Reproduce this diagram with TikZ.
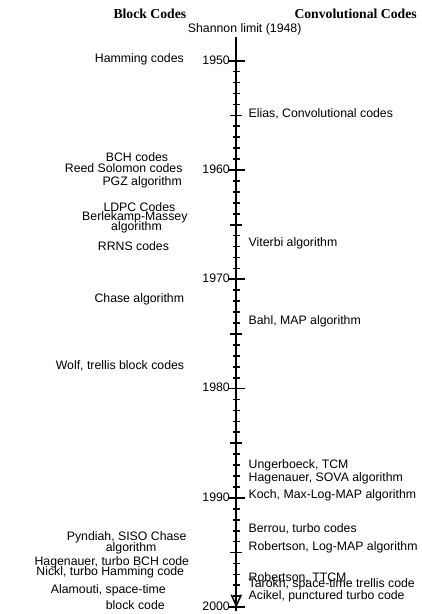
\documentclass[tikz,border=0pt]{standalone}
\usepackage{fontspec}
\setmainfont{Liberation Sans}
\newfontfamily\headfont{Liberation Serif}
\usetikzlibrary{arrows.meta}
\begin{document}
\begin{tikzpicture}[x=1pt,y=-1pt,
  lbl/.style={font=\fontsize{12.3}{13}\selectfont, inner sep=0pt},
  lw/.style={lbl, anchor=base west},
  le/.style={lbl, anchor=base east},
  head/.style={font=\headfont\bfseries\fontsize{13.7}{14}\selectfont, inner sep=0pt, anchor=base west},
  axisline/.style={line width=2.2pt},
  tickline/.style={line width=1.7pt}]
\useasboundingbox (0,0) rectangle (421,614);
% headings
\node[head] (hblock) at (113.3,18.3) {Block Codes};
\node[head] (hconv) at (294.3,18.3) {Convolutional Codes};
\node[lw] (shannon) at (187.7,32.5) {Shannon limit (1948)};
% axis
\coordinate (top) at (236.3,37);
\coordinate (bot) at (236.3,611);
\coordinate (tip) at (236.3,607.5);
\coordinate (pre) at (236.3,590);
\draw[axisline] (top) -- (bot);
\draw[line width=1.5pt,-{Straight Barb[length=11pt,width=10pt,line width=1.5pt]}] (pre) -- (tip);
% ticks
\foreach \yr in {1950,...,2000}{
  \pgfmathsetmacro\yy{60.7+(\yr-1950)*10.93}
  \pgfmathtruncatemacro\mten{mod(\yr,10)}
  \pgfmathtruncatemacro\mfive{mod(\yr,5)}
  \pgfmathsetmacro\len{ifthenelse(\mten==0,8.5,ifthenelse(\mfive==0,6,3.5))}
  \coordinate (t\yr) at (236.3,\yy);
  \draw[tickline] (t\yr) ++(-\len,0) -- ++(2*\len,0);
}
% year labels
\foreach \yr/\yb in {1950/64.0,1960/173.3,1970/282.6,1980/391.9,1990/501.2,2000/610.5}{
  \node[le] (y\yr) at (230,\yb) {\yr};
}
% block codes (left)
\node[le] (hamming) at (184,62.5) {Hamming codes};
\node[lw] (bch) at (105.7,161.7) {BCH codes};
\node[le] (rs) at (182.7,172.7) {Reed Solomon codes};
\node[le] (pgz) at (182,185) {PGZ algorithm};
\node[lw] (ldpc) at (103.3,211) {LDPC Codes};
\node[le] (bm) at (187.7,220) {Berlekamp-Massey};
\node[lw] (bm2) at (111,230.7) {algorithm};
\node[lw] (rrns) at (97.7,250) {RRNS codes};
\node[le] (chase) at (184.3,302.3) {Chase algorithm};
\node[le] (wolf) at (184.3,369.3) {Wolf, trellis block codes};
\node[le] (pyn) at (186.7,540.7) {Pyndiah, SISO Chase};
\node[lw] (pyn2) at (105.7,551) {algorithm};
\node[le] (hagbch) at (189.3,565) {Hagenauer, turbo BCH code};
\node[le] (nickl) at (184.3,575.3) {Nickl, turbo Hamming code};
\node[le] (alam) at (166,593.3) {Alamouti, space-time};
\node[lw] (alam2) at (105.7,609.3) {block code};
% convolutional codes (right)
\node[lw] (elias) at (248.5,117.5) {Elias, Convolutional codes};
\node[lw] (viterbi) at (248.5,246.7) {Viterbi algorithm};
\node[lw] (bahl) at (248.5,324) {Bahl, MAP algorithm};
\node[lw] (unger) at (248.5,468.3) {Ungerboeck, TCM};
\node[lw] (sova) at (248.5,481) {Hagenauer, SOVA algorithm};
\node[lw] (koch) at (248.5,498.3) {Koch, Max-Log-MAP algorithm};
\node[lw] (berrou) at (248.5,532.7) {Berrou, turbo codes};
\node[lw] (logmap) at (248.5,550) {Robertson, Log-MAP algorithm};
\node[lw] (ttcm) at (248.5,581.7) {Robertson, TTCM};
\node[lw] (tarokh) at (248.5,587.7) {Tarokh, space-time trellis code};
\node[lw] (acikel) at (248.5,599) {Acikel, punctured turbo code};
\end{tikzpicture}
\end{document}
